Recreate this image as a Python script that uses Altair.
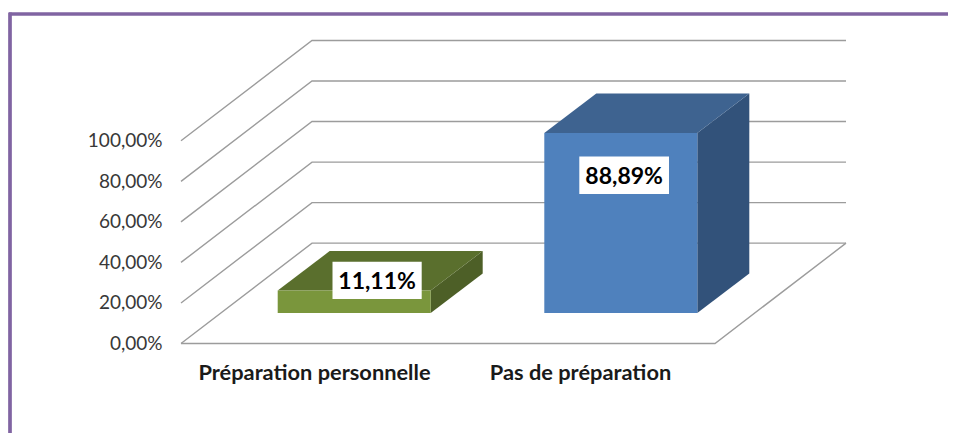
import altair as alt
import pandas as pd

# ---- chart values ----
categories = ["Préparation personnelle", "Pas de préparation"]
values = [11.11, 88.89]
value_labels = ["11,11%", "88,89%"]
front_colors = ["#7A963C", "#4F81BD"]
top_colors = ["#5A6F2D", "#3E6390"]
side_colors = ["#4D5F27", "#32527A"]
y_ticks = [0, 20, 40, 60, 80, 100]

# ---- pseudo-3D geometry, in axis units ----
bar_left = [96.7, 363.3]
bar_width = 153
bar_base = 15
bar_dx = 52
bar_dy = 19.5
wall_dx = 131
wall_dy = 49.5
floor_w = 534
label_x = [133.5, 399.5]
box_x = [(151.5, 240.7), (398.3, 488)]
box_y = [(22.0, 40.3), (73.7, 92.2)]

x_scale = alt.Scale(domain=[0, 665], nice=False, zero=False)
y_scale = alt.Scale(domain=[0, 148.5], nice=False, zero=False)
y_axis = alt.Axis(
    values=y_ticks,
    grid=False,
    domain=False,
    ticks=False,
    labelPadding=19,
    labelFont="Lato",
    labelFontSize=19,
    labelColor="#383838",
    labelExpr="replace(format(datum.value,'.2f'),'.',',')+'%'",
)
X = lambda f: alt.X(f, type="quantitative", scale=x_scale, axis=None)
Y = lambda f: alt.Y(f, type="quantitative", scale=y_scale, axis=y_axis, title=None)
GRID = "#9C9C9C"

# gridlines: side wall, back wall, floor
grid_rows = []
for v in y_ticks:
    grid_rows += [
        {"g": f"s{v}", "o": 0, "x": 0, "y": v},
        {"g": f"s{v}", "o": 1, "x": wall_dx, "y": v + wall_dy},
        {"g": f"s{v}", "o": 2, "x": 665, "y": v + wall_dy},
    ]
grid_rows += [
    {"g": "floor", "o": 0, "x": 0, "y": 0},
    {"g": "floor", "o": 1, "x": floor_w, "y": 0},
    {"g": "floor", "o": 2, "x": 665, "y": wall_dy},
]
grid = alt.Chart(pd.DataFrame(grid_rows)).mark_line(
    color=GRID, strokeWidth=1.4
).encode(x=X("x"), y=Y("y"), detail="g:N", order="o:Q")

layers = [grid]
for i, cat in enumerate(categories):
    L = bar_left[i]
    R = L + bar_width
    top = bar_base + values[i]
    side = pd.DataFrame({
        "x": [R, R + bar_dx],
        "y": [bar_base, bar_base + bar_dy],
        "y2": [top, top + bar_dy],
    })
    roof = pd.DataFrame({
        "y": [top, top + bar_dy],
        "x": [L, L + bar_dx],
        "x2": [R, R + bar_dx],
    })
    front = pd.DataFrame({"x": [L], "x2": [R], "y": [bar_base], "y2": [top]})
    box = pd.DataFrame({
        "x": [box_x[i][0]], "x2": [box_x[i][1]],
        "y": [box_y[i][0]], "y2": [box_y[i][1]],
        "cx": [sum(box_x[i]) / 2], "cy": [sum(box_y[i]) / 2],
        "t": [value_labels[i]],
    })
    layers += [
        alt.Chart(side).mark_area(orient="vertical", color=side_colors[i]).encode(
            x=X("x"), y=Y("y"), y2="y2"),
        alt.Chart(roof).mark_area(orient="horizontal", color=top_colors[i]).encode(
            y=Y("y"), x=X("x"), x2="x2"),
        alt.Chart(front).mark_rect(color=front_colors[i]).encode(
            x=X("x"), x2="x2", y=Y("y"), y2="y2"),
        alt.Chart(box).mark_rect(color="white").encode(
            x=X("x"), x2="x2", y=Y("y"), y2="y2"),
        alt.Chart(box).mark_text(
            font="Lato", fontSize=23, fontWeight="bold", color="black",
            baseline="middle", dy=2
        ).encode(x=X("cx"), y=Y("cy"), text="t:N"),
    ]

cat_text = alt.Chart(pd.DataFrame({"c": categories, "x": label_x})).mark_text(
    font="Lato", fontSize=21.8, fontWeight="bold", color="#1A1A1A", baseline="middle"
).encode(x=X("x"), y=alt.value(330), text="c:N")

frame_top = alt.Chart(pd.DataFrame({"a": [0]})).mark_rule(
    color="#8064A2", strokeWidth=3.7
).encode(x=alt.value(-172), x2=alt.value(780), y=alt.value(-28.5))
frame_left = alt.Chart(pd.DataFrame({"a": [0]})).mark_rule(
    color="#8064A2", strokeWidth=3.7
).encode(x=alt.value(-171), y=alt.value(-30), y2=alt.value(400))

chart = alt.layer(*layers, cat_text, frame_top, frame_left).properties(
    width=665,
    height=301,
    padding={"left": 173, "top": 34.5, "right": 102, "bottom": 89.5},
    autosize=alt.AutoSizeParams(type="none"),
    background="white",
).configure_view(strokeWidth=0)

chart.save("out.html", embed_options={"renderer": "svg", "actions": False})
